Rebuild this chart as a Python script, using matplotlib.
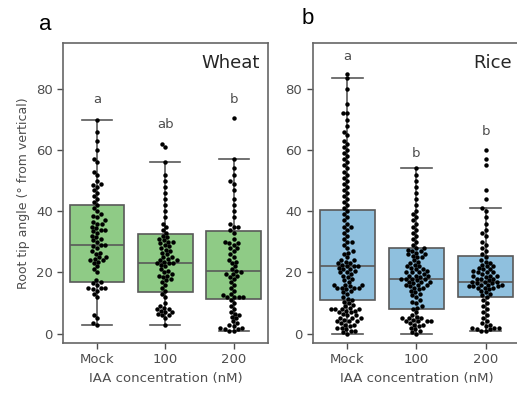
import matplotlib
matplotlib.use("Agg")
import matplotlib.pyplot as plt
import seaborn as sns

groups = ["Mock", "100", "200"]

wheat_mock = [3, 3.5, 5, 6, 12, 13, 14, 14.5, 15, 15, 16, 16.5, 17, 17.5, 20, 21, 22, 23,
              23.5, 24, 24.5, 25, 25, 26, 26.5, 27, 28, 28.5, 29, 29, 30, 30.5, 31, 31.5,
              32, 33, 33.5, 34, 34.5, 35, 36, 36.5, 37, 38, 38.5, 39, 40, 41, 42, 43, 44,
              45, 46, 47, 48, 48.5, 49, 50, 52, 53, 56, 57, 60, 63, 66, 70, 24, 34, 36, 15]
wheat_100 = [3, 5, 6, 6.5, 7, 7.5, 8, 8.5, 9, 10, 12, 13, 14, 15, 16, 17, 17.5, 18, 18.5,
             19, 19.5, 20, 20.5, 21, 22, 22.5, 23, 23, 23.5, 24, 24.5, 25, 26, 26.5, 27,
             27.5, 28, 28.5, 29, 29.5, 30, 30.5, 31, 31.5, 32, 33, 34, 35, 36, 38, 40, 42,
             44, 46, 48, 50, 52, 56, 61, 62, 6, 7, 8, 23, 24, 25, 19, 30]
wheat_200 = [1, 1, 1.5, 2, 2.5, 3, 3.5, 4, 5, 6, 6.5, 7, 8, 9, 10, 11, 12, 12, 12.5, 13,
             14, 15, 16, 17, 18, 18.5, 19, 19.5, 20, 20.5, 21, 22, 23, 23.5, 24, 25, 26,
             27, 28, 29, 29.5, 30, 31, 33, 34, 35, 36, 38, 40, 42, 44, 47, 49, 50, 52, 54,
             57, 70.5, 1.5, 2, 12, 12, 19.5, 28, 29.5, 5.5, 35]

rice_mock = [0, 0.5, 1, 1.5, 2, 2.5, 3, 3.5, 4, 4, 4.5, 5, 5, 6, 6.5, 7, 7.5, 7.5, 8, 8,
             8.5, 9, 9.5, 10, 10.5, 11, 11.5, 12, 13, 13.5, 14, 14.5, 15, 15, 15.5, 16, 16,
             17, 17.5, 18, 18.5, 19, 19.5, 20, 20.5, 21, 21.5, 22, 22, 22.5, 23, 23.5, 24,
             25, 26, 26.5, 27, 28, 29, 30, 31, 32, 33, 34, 35, 36, 37, 38, 39, 40, 41, 42,
             43, 44, 45, 46, 47, 48, 49, 50, 51, 52, 53, 54, 55, 56, 57, 58, 59, 60, 61,
             62, 63, 65, 66, 68, 70, 72, 72, 75, 80, 83.5, 85,
             1, 2, 3, 4, 5, 6, 7, 8, 8, 15, 15, 16, 20, 21, 22, 23, 24, 30, 35]
rice_100 = [0, 0.5, 1, 1.5, 2, 2.5, 3, 3.5, 4, 4, 4.5, 5, 5, 5.5, 6, 7, 8, 8.5, 9, 10,
            10.5, 11, 12, 12.5, 13, 13.5, 14, 14.5, 15, 15, 15.5, 16, 16, 16.5, 17, 17,
            17.5, 18, 18, 18.5, 19, 19, 19.5, 20, 20, 20.5, 21, 21.5, 22, 22.5, 23, 23.5,
            24, 25, 25.5, 26, 26.5, 27, 27.5, 28, 29, 30, 31, 32, 33, 34, 35, 36, 37, 38,
            39, 40, 42, 44, 46, 48, 50, 52, 54,
            3, 4, 4, 5, 16, 17, 18, 18, 19, 20, 21, 22, 25, 26, 27, 28]
rice_200 = [1, 1, 1.5, 2, 2, 2.5, 3, 3.5, 4, 5, 6, 7, 8, 9, 10, 11, 12, 12.5, 13, 13.5,
            14, 14.5, 15, 15, 15.5, 15.5, 16, 16, 16.5, 17, 17, 17.5, 18, 18, 18.5, 19, 19,
            19.5, 20, 20, 20.5, 21, 21.5, 22, 22.5, 23, 23.5, 24, 25, 26, 27, 28, 29, 30,
            32, 33, 34, 36, 38, 40, 41, 44, 47, 55, 57, 60,
            15, 16, 17, 18, 19, 20, 21, 22, 15.5, 16.5, 2, 1.5]

# box stats: (whislo, q1, med, q3, whishi)
wheat_boxes = [(3, 17, 29, 42, 70), (3, 13.5, 23, 32.5, 56), (1, 11.5, 20.5, 33.5, 57)]
rice_boxes = [(0, 11, 22, 40.5, 83.5), (0, 8, 18, 28, 54), (1, 12, 17, 25.5, 41)]

wheat_letters = ["a", "ab", "b"]
wheat_letter_y = [76.5, 68.5, 76.5]
rice_letters = ["a", "b", "b"]
rice_letter_y = [90.5, 59, 66]

fig = plt.figure(figsize=(5.17, 3.95), dpi=100)
ax1 = fig.add_axes([0.122, 0.132, 0.396, 0.759])
ax2 = fig.add_axes([0.605, 0.132, 0.401, 0.759])

edge = "0.35"


def panel(ax, data, boxes, face, title, letters, letter_y):
    stats = [dict(whislo=b[0], q1=b[1], med=b[2], q3=b[3], whishi=b[4], fliers=[])
             for b in boxes]
    ax.bxp(stats, positions=[0, 1, 2], widths=0.8, capwidths=0.44, patch_artist=True,
           showfliers=False,
           boxprops=dict(facecolor=face, edgecolor=edge, linewidth=1.2),
           medianprops=dict(color=edge, linewidth=1.2),
           whiskerprops=dict(color=edge, linewidth=1.2),
           capprops=dict(color=edge, linewidth=1.2))
    xs, ys = [], []
    for g, vals in zip(groups, data):
        xs += [g] * len(vals)
        ys += vals
    sns.swarmplot(x=xs, y=ys, order=groups, ax=ax, color="black", size=3.2, zorder=3)
    ax.set_xlim(-0.5, 2.5)
    ax.set_ylim(-3, 95)
    ax.set_xticks([0, 1, 2])
    ax.set_xticklabels(groups)
    ax.set_yticks([0, 20, 40, 60, 80])
    ax.tick_params(labelsize=9.5, colors="0.3", length=4, width=1)
    for s in ax.spines.values():
        s.set_color("0.4")
        s.set_linewidth(1.2)
    ax.set_xlabel("IAA concentration (nM)", fontsize=9.5, color="0.3")
    ax.set_ylabel("")
    ax.text(0.96, 0.933, title, transform=ax.transAxes, ha="right", va="center",
            fontsize=13, color="0.15")
    for i, (t, y) in enumerate(zip(letters, letter_y)):
        ax.text(i, y, t, ha="center", va="center", fontsize=9.5, color="0.3")


panel(ax1, [wheat_mock, wheat_100, wheat_200], wheat_boxes, "#8fcb86", "Wheat",
      wheat_letters, wheat_letter_y)
panel(ax2, [rice_mock, rice_100, rice_200], rice_boxes, "#8fc0de", "Rice",
      rice_letters, rice_letter_y)
ax1.set_ylabel("Root tip angle (\u00b0 from vertical)", fontsize=9, color="0.3")

fig.text(45 / 517, 1 - 25 / 395, "a", fontsize=16, family="Liberation Sans",
         ha="center", va="center")
fig.text(308 / 517, 1 - 18 / 395, "b", fontsize=16, family="Liberation Sans",
         ha="center", va="center")

fig.savefig("out.png", dpi=100)
